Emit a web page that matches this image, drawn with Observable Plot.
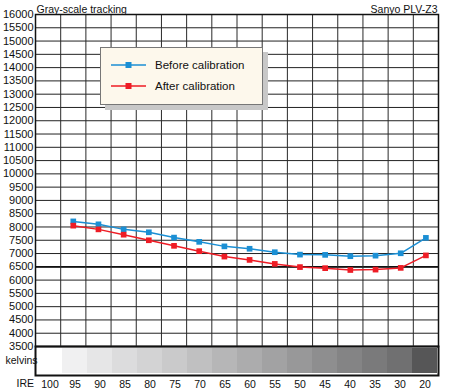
<!DOCTYPE html>
<html>
<head>
<meta charset="utf-8">
<script src="https://cdn.jsdelivr.net/npm/d3@7"></script>
<script src="https://cdn.jsdelivr.net/npm/@observablehq/plot@0.6"></script>
<style>
  body { margin: 0; background: #fff; font-family: "Liberation Sans", Arial, sans-serif; }
  #wrap { position: relative; width: 450px; height: 390px; }
  #wrap > svg { display: block; position: absolute; left: 0; }
  #legend { position: absolute; left: 100px; top: 47px; width: 163px; height: 58px;
    background: #fdf8ec; border: 1px solid #777; box-shadow: 5px 5px 0 #c8c8c8; box-sizing: border-box; }
  .li { position: absolute; left: 10px; display: flex; align-items: center; font-size: 11.5px; color: #111; white-space: nowrap; }
  .li svg { margin-right: 9px; display: block; }
</style>
</head>
<body>
<div id="wrap"></div>
<script>
const ire = ["100","95","90","85","80","75","70","65","60","55","50","45","40","35","30","20"];
const measured = ["95","90","85","80","75","70","65","60","55","50","45","40","35","30","20"];
const before = [8210, 8100, 7910, 7800, 7600, 7440, 7270, 7180, 7050, 6960, 6950, 6900, 6920, 7010, 7590];
const after  = [8050, 7910, 7710, 7500, 7290, 7090, 6885, 6760, 6610, 6490, 6450, 6380, 6395, 6460, 6930];
const grayLevels = [255, 240, 230, 220, 211, 202, 192, 182, 172, 162, 152, 142, 132, 122, 112, 86];
const yTicks = d3.range(3500, 16001, 500);
const d65 = 6500;
const blue = "#1b8fd4", red = "#ee1c25";

const rows = measured.flatMap((l, i) => [
  {x: ire.indexOf(l) + 0.5, k: before[i], s: "Before calibration"},
  {x: ire.indexOf(l) + 0.5, k: after[i], s: "After calibration"}
]);
const colEdges = d3.range(ire.length + 1);

const main = Plot.plot({
  width: 450, height: 347,
  marginTop: 14, marginBottom: 1, marginLeft: 35, marginRight: 12,
  style: {fontFamily: "Liberation Sans, Arial, sans-serif", fontSize: "11px", color: "#111", overflow: "visible", background: "transparent"},
  x: {domain: [0, ire.length], axis: null},
  y: {domain: [3500, 16000], ticks: yTicks, tickSize: 0, tickPadding: 2, label: null, tickFormat: d => String(d)},
  marks: [
    Plot.ruleY(yTicks, {stroke: "#222", strokeWidth: 1}),
    Plot.ruleY([d65], {stroke: "#111", strokeWidth: 1.8}),
    Plot.ruleX(colEdges, {stroke: "#2a2a2a", strokeWidth: 1}),
    Plot.line(rows, {x: "x", y: "k", z: "s", stroke: d => d.s === "Before calibration" ? blue : red, strokeWidth: 1.5}),
    Plot.dot(rows, {x: "x", y: "k", symbol: "square", r: 3.2, fill: d => d.s === "Before calibration" ? blue : red}),
    Plot.frame({stroke: "#111", strokeWidth: 1.5}),
    Plot.text(["Gray-scale tracking"], {frameAnchor: "top-left", dy: -9, dx: 1, fontSize: 10.5, textAnchor: "start"}),
    Plot.text(["Sanyo PLV-Z3"], {frameAnchor: "top-right", dy: -9, dx: -1, fontSize: 10.5, textAnchor: "end"})
  ]
});
main.style.top = "0px";

const strip = Plot.plot({
  width: 450, height: 44,
  marginTop: 0, marginBottom: 15, marginLeft: 35, marginRight: 12,
  style: {fontFamily: "Liberation Sans, Arial, sans-serif", fontSize: "10.5px", color: "#111", overflow: "visible"},
  x: {domain: ire, padding: 0, tickSize: 0, tickPadding: 5, label: null},
  marks: [
    Plot.cell(ire, {x: d => d, fill: (d, i) => d3.rgb(grayLevels[i], grayLevels[i], grayLevels[i] + 1).toString(), insetTop: 2, insetBottom: 2}),
    Plot.frame({stroke: "#111", strokeWidth: 2}),
    Plot.text(["kelvins"], {frameAnchor: "left", dx: -30, textAnchor: "start", fontSize: 10.5}),
    Plot.text(["IRE"], {frameAnchor: "bottom-left", dx: -19, dy: 11, textAnchor: "start", fontSize: 10.5})
  ]
});
strip.style.top = "346px";

const wrap = document.getElementById("wrap");
wrap.appendChild(strip);
wrap.appendChild(main);

const legend = document.createElement("div");
legend.id = "legend";
[["Before calibration", blue], ["After calibration", red]].forEach(([name, c], i) => {
  const item = document.createElement("div");
  item.className = "li";
  item.style.top = (11 + i * 21) + "px";
  item.innerHTML = `<svg width="35" height="8"><line x1="0" x2="35" y1="4" y2="4" stroke="${c}" stroke-width="1.5"/><rect x="14.5" y="1" width="6" height="6" fill="${c}"/></svg><span>${name}</span>`;
  legend.appendChild(item);
});
wrap.appendChild(legend);
</script>
</body>
</html>
